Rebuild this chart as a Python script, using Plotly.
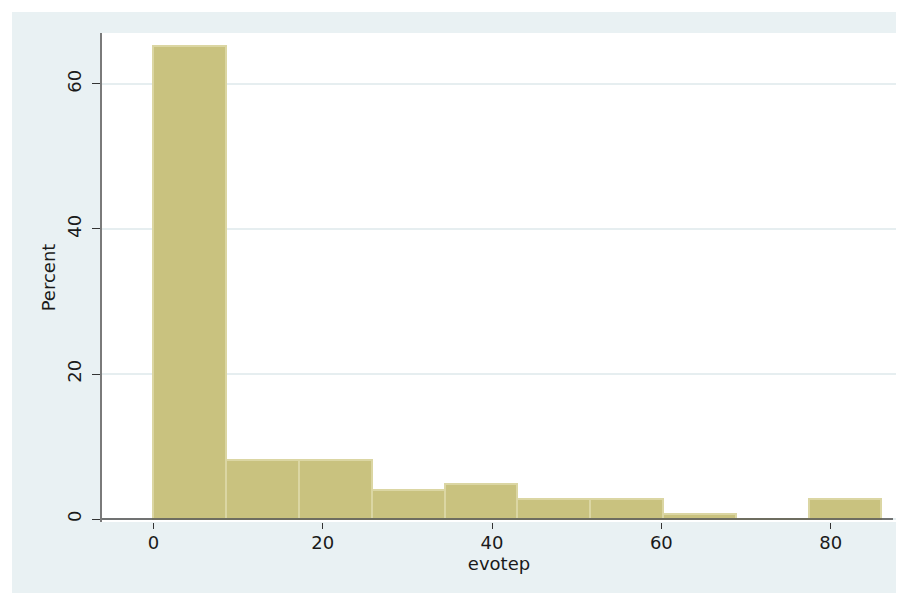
import plotly.graph_objects as go

# ---- data ----
bin_edges = [0, 8.6, 17.2, 25.8, 34.4, 43.0, 51.6, 60.2, 68.8, 77.4, 86.0]
percent = [65.2, 8.1, 8.1, 4.0, 4.8, 2.8, 2.8, 0.7, 0.0, 2.8]
x_ticks = [0, 20, 40, 60, 80]
y_ticks = [0, 20, 40, 60]
x_title = "evotep"
y_title = "Percent"

centers = [(a + b) / 2 for a, b in zip(bin_edges[:-1], bin_edges[1:])]
widths = [b - a for a, b in zip(bin_edges[:-1], bin_edges[1:])]

W, H = 896, 585
L, R, T, B = 94, 8, 25, 71
pw, ph = W - L - R, H - T - B
BAND = 4  # white band at top/left of the figure

BG = "#e9f1f3"
FONT = "DejaVu Sans"

fig = go.Figure()
fig.add_trace(go.Bar(
    x=centers, y=percent, width=widths,
    marker=dict(color="#c9c27f", line=dict(color="#dbd6a3", width=2)),
    hoverinfo="skip",
))

shapes = [
    dict(type="rect", xref="paper", yref="paper",
         x0=-L / pw, x1=(BAND - L) / pw, y0=-B / ph, y1=1 + T / ph,
         fillcolor="white", line=dict(width=0), layer="below"),
    dict(type="rect", xref="paper", yref="paper",
         x0=-L / pw, x1=1 + R / pw, y0=1 + (T - BAND) / ph, y1=1 + T / ph,
         fillcolor="white", line=dict(width=0), layer="below"),
    dict(type="line", xref="paper", yref="y",
         x0=0, x1=1 - 3 / pw, y0=0, y1=0,
         line=dict(color="#4a4a4a", width=1.5), layer="above"),
]

fig.update_layout(
    width=W, height=H,
    margin=dict(l=L, r=R, t=T, b=B, pad=0),
    paper_bgcolor=BG, plot_bgcolor="white",
    showlegend=False, bargap=0,
    font=dict(family=FONT, size=18, color="#1a1a1a"),
    shapes=shapes,
    xaxis=dict(
        range=[-6.07, 87.72], tickvals=x_ticks, ticktext=[str(v) for v in x_ticks],
        showgrid=False, zeroline=False, showline=False,
        ticks="outside", ticklen=6, tickwidth=1, tickcolor="#333333",
        tickfont=dict(size=18), ticklabelstandoff=-2,
        title=dict(text=x_title, font=dict(size=18), standoff=0),
    ),
    yaxis=dict(
        range=[-0.41, 67.03], tickvals=y_ticks, ticktext=[str(v) for v in y_ticks],
        tickangle=-90,
        showgrid=True, gridcolor="#e6eef0", gridwidth=2, zeroline=False,
        showline=True, linecolor="#7a7a7a", linewidth=1.5,
        ticks="outside", ticklen=8, tickwidth=1, tickcolor="#333333",
        tickfont=dict(size=18), ticklabelstandoff=4,
        title=dict(text=y_title, font=dict(size=18), standoff=4),
    ),
)

fig.write_html("out.html")
